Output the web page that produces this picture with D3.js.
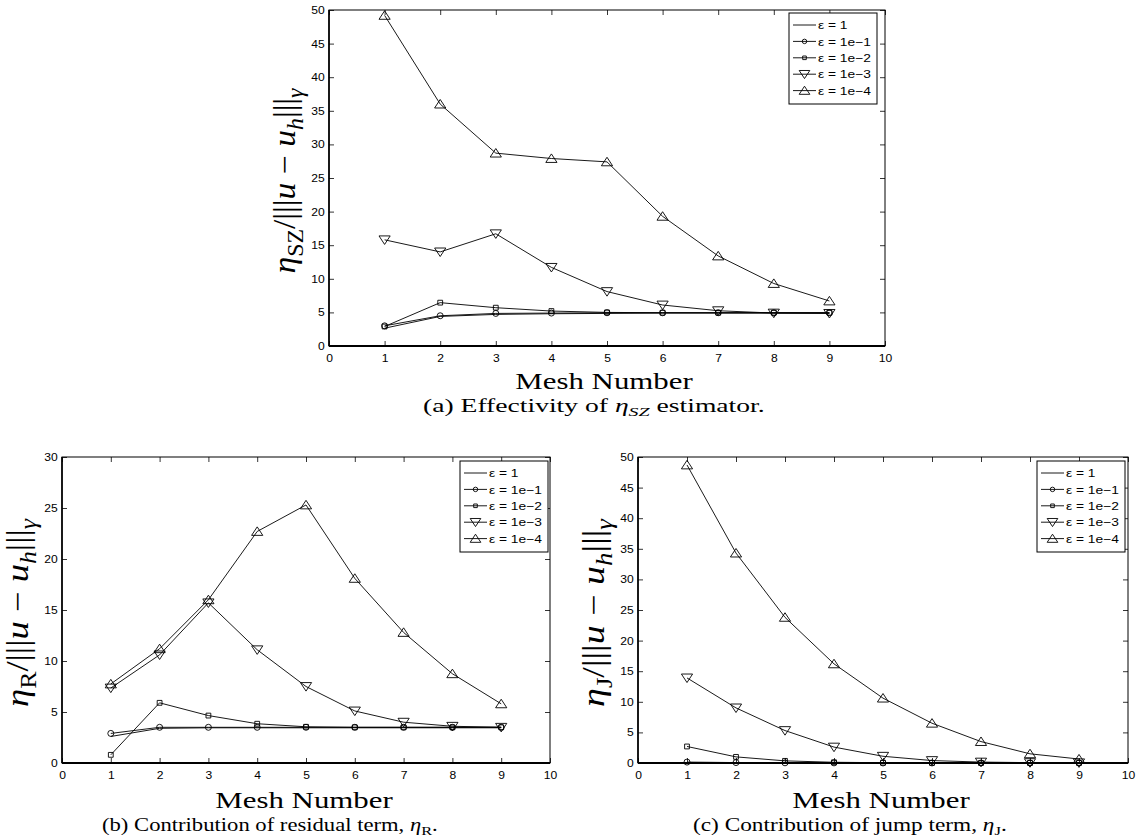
<!DOCTYPE html>
<html>
<head>
<meta charset="utf-8">
<script src="https://cdn.jsdelivr.net/npm/d3@7"></script>
<style>
  body { margin: 0; background: #fff; }
  svg { display: block; }
</style>
</head>
<body>
<svg id="chart" width="1138" height="839"></svg>
<script>
// ---------------- data ----------------
const meshNumbers = [1, 2, 3, 4, 5, 6, 7, 8, 9];
const xTickValues = [0, 1, 2, 3, 4, 5, 6, 7, 8, 9, 10];
const yTicks50 = [0, 5, 10, 15, 20, 25, 30, 35, 40, 45, 50];
const yTicks30 = [0, 5, 10, 15, 20, 25, 30];
const legendLabels = ["ε = 1", "ε = 1e−1", "ε = 1e−2", "ε = 1e−3", "ε = 1e−4"];
const markerTypes = ["none", "circle", "square", "triangleDown", "triangleUp"];

// (a) effectivity of eta_SZ
const szEps1   = [2.65, 4.4, 4.7, 4.8, 4.85, 4.9, 4.9, 4.9, 4.9];
const szEps1e1 = [3.0, 4.5, 4.85, 4.9, 4.95, 4.95, 4.95, 4.95, 4.95];
const szEps1e2 = [2.9, 6.45, 5.7, 5.2, 5.0, 4.95, 4.95, 4.95, 4.95];
const szEps1e3 = [15.8, 14.0, 16.7, 11.7, 8.1, 6.1, 5.25, 4.9, 4.85];
const szEps1e4 = [49.2, 36.0, 28.7, 27.9, 27.4, 19.3, 13.4, 9.3, 6.7];

// (b) residual term eta_R
const rEps1   = [2.6, 3.4, 3.45, 3.45, 3.45, 3.45, 3.45, 3.45, 3.45];
const rEps1e1 = [2.9, 3.5, 3.5, 3.5, 3.5, 3.5, 3.5, 3.5, 3.5];
const rEps1e2 = [0.8, 5.9, 4.65, 3.85, 3.55, 3.5, 3.5, 3.5, 3.5];
const rEps1e3 = [7.35, 10.6, 15.7, 11.1, 7.5, 5.1, 4.0, 3.6, 3.5];
const rEps1e4 = [7.75, 11.2, 16.0, 22.7, 25.3, 18.1, 12.8, 8.75, 5.8];

// (c) jump term eta_J
const jEps1   = [0.05, 0.03, 0.02, 0.01, 0.01, 0.01, 0.01, 0.01, 0.01];
const jEps1e1 = [0.15, 0.07, 0.03, 0.02, 0.01, 0.01, 0.01, 0.01, 0.01];
const jEps1e2 = [2.7, 1.0, 0.35, 0.12, 0.05, 0.02, 0.01, 0.01, 0.01];
const jEps1e3 = [13.9, 9.0, 5.3, 2.6, 1.1, 0.4, 0.15, 0.06, 0.03];
const jEps1e4 = [48.7, 34.3, 23.8, 16.2, 10.6, 6.5, 3.5, 1.5, 0.65];

// ---------------- layout ----------------
const panels = [
  { left: 329, right: 885, top: 10, bottom: 346, yMax: 50, yTicks: yTicks50,
    series: [szEps1, szEps1e1, szEps1e2, szEps1e3, szEps1e4],
    legendRight: 877, legendTop: 13, ySub: "SZ", yLabelLen: 187,
    meshCenter: 604, meshBaseline: 389,
    capPre: "(a) Effectivity of ", capSub: "SZ", capSubItalic: true, capPost: " estimator.",
    capX: 423, capBaseline: 412, capWidth: 342 },
  { left: 62, right: 550, top: 457, bottom: 763, yMax: 30, yTicks: yTicks30,
    series: [rEps1, rEps1e1, rEps1e2, rEps1e3, rEps1e4],
    legendRight: 548, legendTop: 461, ySub: "R", yLabelLen: 190,
    meshCenter: 304, meshBaseline: 808,
    capPre: "(b) Contribution of residual term, ", capSub: "R", capSubItalic: false, capPost: ".",
    capX: 102, capBaseline: 831, capWidth: 336 },
  { left: 638, right: 1128, top: 457, bottom: 763, yMax: 50, yTicks: yTicks50,
    series: [jEps1, jEps1e1, jEps1e2, jEps1e3, jEps1e4],
    legendRight: 1125, legendTop: 461, ySub: "J", yLabelLen: 190,
    meshCenter: 881, meshBaseline: 808,
    capPre: "(c) Contribution of jump term, ", capSub: "J", capSubItalic: false, capPost: ".",
    capX: 693, capBaseline: 831, capWidth: 314 }
];

const SANS = "'Liberation Sans', Arial, Helvetica, sans-serif";
const SERIF = "'Liberation Serif', 'Times New Roman', serif";
const TICK_SX = 1.1;

const svg = d3.select("#chart");

function markerPath(type, s) {
  const w = 5.6 * s, h = 4.6 * s;
  switch (type) {
    case "circle": {
      const r = 3 * s;
      return `M${-r},0A${r},${r} 0 1,0 ${r},0A${r},${r} 0 1,0 ${-r},0Z`;
    }
    case "square": {
      const a = 2.4 * s;
      return `M${-a},${-a}H${a}V${a}H${-a}Z`;
    }
    case "triangleUp":
      return `M0,${-h}L${w},${h * 0.85}L${-w},${h * 0.85}Z`;
    case "triangleDown":
      return `M0,${h}L${w},${-h * 0.85}L${-w},${-h * 0.85}Z`;
    default:
      return "";
  }
}

function styleAxis(g, showLabels) {
  g.select(".domain").remove();
  g.attr("font-family", SANS).attr("font-size", 11);
  g.selectAll(".tick line").attr("stroke", "#000").attr("stroke-width", 0.8);
  if (showLabels) {
    g.selectAll(".tick text").attr("fill", "#000").attr("transform", `scale(${TICK_SX},1)`);
  }
}

function drawPanel(cfg) {
  const x = d3.scaleLinear().domain([0, 10]).range([cfg.left, cfg.right]);
  const y = d3.scaleLinear().domain([0, cfg.yMax]).range([cfg.bottom, cfg.top]);
  const g = svg.append("g");

  // axes (ticks inward on all four sides)
  g.append("g").attr("transform", `translate(0,${cfg.bottom})`)
    .call(d3.axisBottom(x).tickValues(xTickValues).tickSizeInner(-5).tickSizeOuter(0).tickPadding(8))
    .call(a => styleAxis(a, true));
  g.append("g").attr("transform", `translate(0,${cfg.top})`)
    .call(d3.axisTop(x).tickValues(xTickValues).tickSizeInner(-5).tickSizeOuter(0).tickFormat(() => ""))
    .call(a => styleAxis(a, false));
  g.append("g").attr("transform", `translate(${cfg.left},0)`)
    .call(d3.axisLeft(y).tickValues(cfg.yTicks).tickSizeInner(-5).tickSizeOuter(0).tickPadding(4))
    .call(a => styleAxis(a, true));
  g.append("g").attr("transform", `translate(${cfg.right},0)`)
    .call(d3.axisRight(y).tickValues(cfg.yTicks).tickSizeInner(-5).tickSizeOuter(0).tickFormat(() => ""))
    .call(a => styleAxis(a, false));

  // box
  g.append("rect")
    .attr("x", cfg.left).attr("y", cfg.top)
    .attr("width", cfg.right - cfg.left).attr("height", cfg.bottom - cfg.top)
    .attr("fill", "none").attr("stroke", "#000").attr("stroke-width", 1);
  g.append("line").attr("x1", cfg.left).attr("x2", cfg.right)
    .attr("y1", cfg.bottom).attr("y2", cfg.bottom).attr("stroke", "#000").attr("stroke-width", 1.8);
  g.append("line").attr("x1", cfg.left).attr("x2", cfg.left)
    .attr("y1", cfg.top).attr("y2", cfg.bottom).attr("stroke", "#000").attr("stroke-width", 1.6);

  // series
  const line = d3.line().x((d, i) => x(meshNumbers[i])).y(d => y(d));
  cfg.series.forEach((vals) => {
    g.append("path").attr("d", line(vals))
      .attr("fill", "none").attr("stroke", "#000").attr("stroke-width", 0.9);
  });
  cfg.series.forEach((vals, si) => {
    if (markerTypes[si] === "none") return;
    g.selectAll(null).data(vals).enter().append("path")
      .attr("d", markerPath(markerTypes[si], 1))
      .attr("transform", (d, i) => `translate(${x(meshNumbers[i])},${y(d)})`)
      .attr("fill", "none").attr("stroke", "#000").attr("stroke-width", 0.9);
  });

  // legend
  const lw = 88, lh = 91, rowH = 16.4;
  const lg = g.append("g").attr("transform", `translate(${cfg.legendRight - lw},${cfg.legendTop})`);
  lg.append("rect").attr("width", lw).attr("height", lh)
    .attr("fill", "#fff").attr("stroke", "#000").attr("stroke-width", 1);
  legendLabels.forEach((lab, i) => {
    const ry = 12 + i * rowH;
    lg.append("line").attr("x1", 4).attr("x2", 27).attr("y1", ry).attr("y2", ry)
      .attr("stroke", "#000").attr("stroke-width", 0.9);
    if (markerTypes[i] !== "none") {
      const s = (markerTypes[i] === "circle" || markerTypes[i] === "square") ? 0.75 : 0.95;
      lg.append("path").attr("d", markerPath(markerTypes[i], s))
        .attr("transform", `translate(15.5,${ry})`)
        .attr("fill", "none").attr("stroke", "#000").attr("stroke-width", 0.9);
    }
    lg.append("text").attr("transform", `translate(29,${ry + 4.2}) scale(1.2,1)`)
      .attr("font-family", SANS).attr("font-size", 11.5).attr("fill", "#000")
      .text(lab);
  });

  // y label: eta_X / |||u - u_h|||_gamma  (rotated)
  const yl = g.append("text")
    .attr("font-family", SERIF).attr("font-size", 24).attr("fill", "#000")
    .attr("text-anchor", "middle");
  yl.append("tspan").attr("font-style", "italic").text("η");
  yl.append("tspan").attr("font-size", 17).attr("dy", 6).text(cfg.ySub);
  yl.append("tspan").attr("dy", -6).text("/|||");
  yl.append("tspan").attr("font-style", "italic").text("u");
  yl.append("tspan").text(" − ");
  yl.append("tspan").attr("font-style", "italic").text("u");
  yl.append("tspan").attr("font-style", "italic").attr("font-size", 17).attr("dy", 6).text("h");
  yl.append("tspan").attr("dy", -6).text("|||");
  yl.append("tspan").attr("font-style", "italic").attr("font-size", 17).attr("dy", 6).text("γ");
  const ylw = yl.node().getBBox().width;
  const ycx = cfg.left - 34, ycy = (cfg.top + cfg.bottom) / 2 + 3;
  yl.attr("transform", `translate(${ycx},${ycy}) rotate(-90) scale(${cfg.yLabelLen / ylw},1.3)`);

  // x label
  const xl = g.append("text")
    .attr("font-family", SERIF).attr("font-size", 23).attr("fill", "#000")
    .attr("text-anchor", "middle").text("Mesh Number");
  const xlw = xl.node().getBBox().width;
  xl.attr("transform", `translate(${cfg.meshCenter},${cfg.meshBaseline}) scale(${178 / xlw},1)`);

  // caption
  const cap = g.append("text")
    .attr("font-family", SERIF).attr("font-size", 18).attr("fill", "#000");
  cap.append("tspan").text(cfg.capPre);
  cap.append("tspan").attr("font-style", "italic").text("η");
  cap.append("tspan").attr("font-size", 13).attr("dy", 4)
    .attr("font-style", cfg.capSubItalic ? "italic" : "normal").text(cfg.capSub);
  cap.append("tspan").attr("dy", -4).text(cfg.capPost);
  const cw = cap.node().getBBox().width;
  cap.attr("transform", `translate(${cfg.capX},${cfg.capBaseline}) scale(${cfg.capWidth / cw},1)`);
}

panels.forEach(drawPanel);
</script>
</body>
</html>
